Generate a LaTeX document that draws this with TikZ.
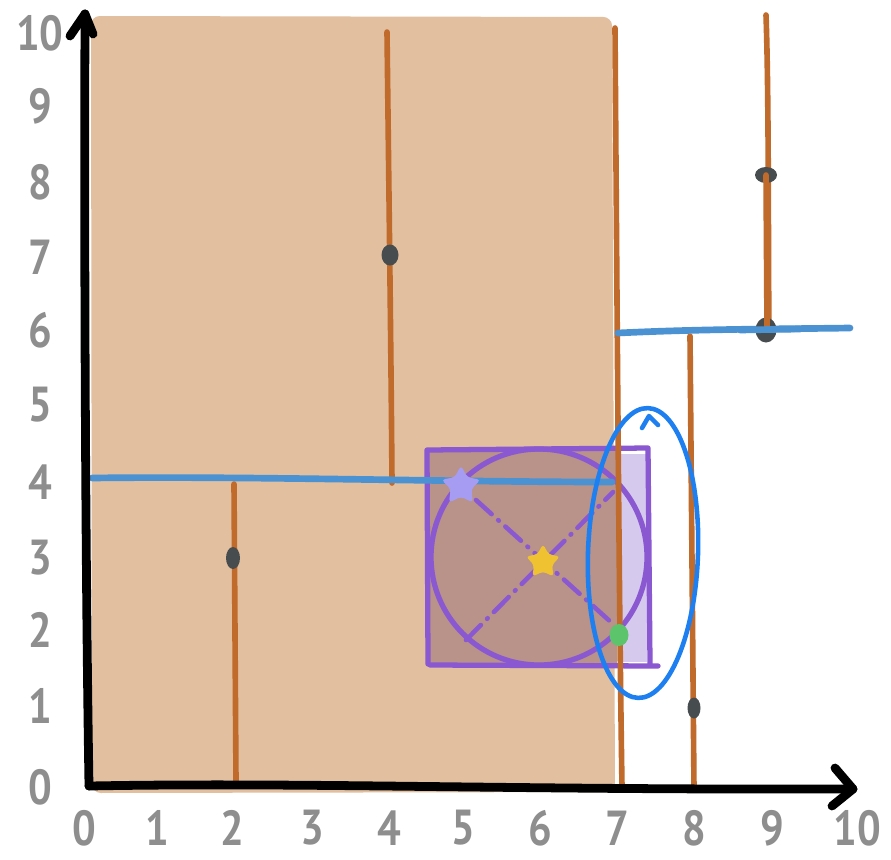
\documentclass[tikz,border=0pt]{standalone}
\usepackage{fontspec}
\setmainfont{PT Sans}
\usetikzlibrary{shapes.geometric}
\definecolor{tanc}{HTML}{E2BF9F}
\definecolor{mauvec}{HTML}{B9928A}
\definecolor{lavc}{HTML}{D6C9EE}
\definecolor{orangec}{HTML}{C06B2C}
\definecolor{bluec}{HTML}{4B92D2}
\definecolor{ringc}{HTML}{1E80F0}
\definecolor{purplec}{HTML}{8A58D0}
\definecolor{dotc}{HTML}{474D4F}
\definecolor{starlav}{HTML}{A69CF2}
\definecolor{staryel}{HTML}{EFC232}
\definecolor{greenc}{HTML}{5CC46A}
\definecolor{labelc}{HTML}{8E8E8E}
\tikzset{
  axisline/.style={line width=5pt, black, line cap=round, line join=round},
  splitv/.style={line width=3.2pt, orangec, line cap=round},
  splith/.style={line width=3.8pt, bluec, line cap=round},
  purpleline/.style={line width=3pt, purplec, line cap=round, line join=round},
  dotnode/.style={ellipse, fill=dotc, inner sep=0pt},
  ticklabel/.style={text=labelc, font=\fontsize{28}{28}\selectfont\bfseries, inner sep=0pt, xscale=0.85},
  starnode/.style={star, star points=5, star point ratio=1.9, rounded corners=2pt, inner sep=0pt},
}
\begin{document}
\begin{tikzpicture}[x=0.02cm, y=-0.02cm]
\useasboundingbox (0,0) rectangle (891,859);
\fill[white] (0,0) rectangle (891,859);
% tan region
\fill[tanc, rounded corners=5pt] (91,16) -- (612,17) -- (615,792) -- (92,793) -- cycle;
% purple query box fills
\fill[mauvec] (428,450) rectangle (617,664);
\fill[lavc] (619,454) rectangle (647,662);
% purple box and circle
\draw[purpleline] (428,664) -- (427,450) -- (648,448) -- (650,664);
\draw[purpleline] (430,665) -- (658,666);
\draw[purpleline] (539,557) circle [radius=108];
% dash-dot diagonals
\coordinate (d1a) at (476,500);
\coordinate (d1b) at (613,624);
\coordinate (d2a) at (466,640);
\coordinate (d2b) at (613,492);
\draw[purpleline, line width=2.6pt, dash pattern=on 12pt off 5pt on 0.5pt off 5pt] (d1a) -- (d1b);
\draw[purpleline, line width=2.6pt, dash pattern=on 12pt off 5pt on 0.5pt off 5pt] (d2a) -- (d2b);
% orange vertical splits
\draw[splitv] (234,484) -- (236,782);
\draw[splitv] (387,32) .. controls (389,200) and (391,350) .. (392,483);
\draw[splitv] (615,28) .. controls (617,300) and (619,600) .. (622,787);
\draw[splitv] (690,336) -- (694,790);
\draw[splitv] (766,15) .. controls (769,100) and (768,250) .. (769,330);
% blue horizontal splits
\draw[splith] (92,478) .. controls (250,476) and (450,482) .. (612,482);
\draw[splith] (618,333) .. controls (700,329) and (780,329) .. (850,328);
% points
\node[dotnode, minimum width=0.28cm, minimum height=0.44cm] (p23) at (233,558) {};
\node[dotnode, minimum width=0.34cm, minimum height=0.42cm] (p47) at (390,255) {};
\node[dotnode, minimum width=0.44cm, minimum height=0.32cm] (p98) at (766,175) {};
\node[dotnode, minimum width=0.42cm, minimum height=0.50cm] (p96) at (766,330) {};
\node[dotnode, minimum width=0.26cm, minimum height=0.42cm] (p81) at (694,708) {};
\draw[splitv] (766,175) -- (767,330);
\draw[splith] (740,330) -- (800,329);
% stars and green point
\node[starnode, fill=starlav, minimum size=0.82cm] (qstar) at (461,486) {};
\node[starnode, fill=staryel, minimum size=0.72cm] (cstar) at (543,562) {};
\node[ellipse, fill=greenc, inner sep=0pt, minimum width=0.38cm, minimum height=0.44cm] (p72) at (619,635) {};
% blue highlight ellipse
\draw[ringc, line width=2.6pt, rotate around={-2:(643,553)}] (643,553) ellipse [x radius=55, y radius=145];
\draw[ringc, line width=2.6pt, line cap=round, line join=round] (642,428) -- (649,416) -- (658,425);
% axes
\coordinate (origin) at (89,786);
\coordinate (ytop) at (85,14);
\coordinate (xend) at (853,789);
\draw[axisline] (origin) .. controls (86,600) and (84,300) .. (ytop);
\draw[axisline] (70,36) -- (ytop) -- (93,34);
\draw[axisline] (origin) .. controls (300,782) and (500,790) .. (xend);
\draw[axisline] (835,768) -- (xend) -- (832,806);
% tick labels
\foreach \v/\px in {0/84,1/157,2/232,3/312,4/389,5/463,6/540,7/617,8/694,9/772,10/857}
  \node[ticklabel] (xl\v) at (\px,828) {\v};
\foreach \v/\py in {0/787,1/706,2/630,3/558,4/482,5/405,6/330,7/257,8/182,9/106,10/33}
  \node[ticklabel] (yl\v) at (40,\py) {\v};
\end{tikzpicture}
\end{document}
